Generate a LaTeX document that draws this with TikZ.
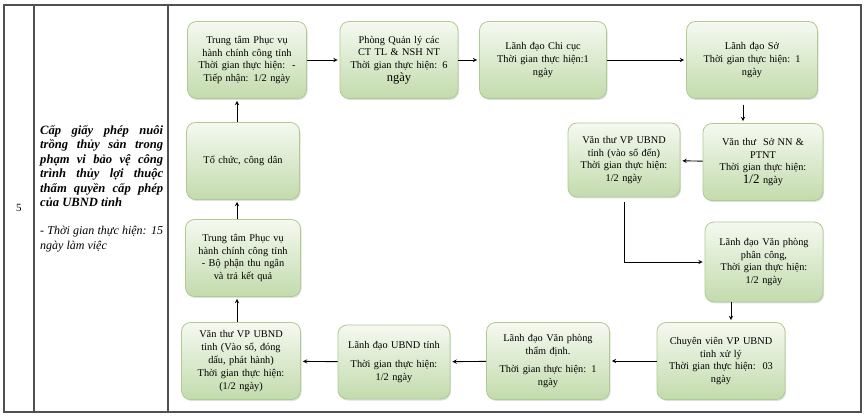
\documentclass[tikz,border=0pt]{standalone}
\usepackage{fontspec}
\setmainfont{Liberation Serif}
\usepackage{xcolor}
\usepackage{tikz}
\usetikzlibrary{shadows}
\definecolor{boxtop}{HTML}{F5F9F0}
\definecolor{boxbot}{HTML}{C2DBAC}
\definecolor{boxline}{HTML}{AECB93}
\definecolor{rule}{HTML}{505050}
\tikzset{box/.style={rectangle,rounded corners=9pt,draw=boxline,line width=0.8pt,top color=boxtop,bottom color=boxbot,
    drop shadow={opacity=0.25,shadow xshift=1pt,shadow yshift=-1.5pt},
    text width=#1,inner xsep=4pt,minimum height=77pt,align=center,font=\fontsize{10.3}{12.8}\selectfont}}
\tikzset{flow/.style={->,line width=0.9pt,shorten >=2pt}}

\begin{document}
\begin{tikzpicture}[>=stealth,x=1pt,y=-1pt]
        \useasboundingbox (0,0) rectangle (864,419);
        % table
        \draw[rule,line width=1.2pt] (4,5) rectangle (861,412);
        \draw[rule,line width=1.2pt] (34,5) -- (34,412);
        \draw[rule,line width=1.2pt] (168,5) -- (168,412);
        \node[font=\fontsize{11}{13}\selectfont] (no) at (19,208) {5};
        \node[anchor=north west,text width=123pt,align=justify,inner sep=0pt,
            font=\fontsize{12.6}{14.5}\selectfont\bfseries\itshape] (task) at (40,125)
            {Cấp giấy phép nuôi\linebreak trồng thủy sản trong\linebreak phạm vi bảo vệ công\linebreak trình thủy lợi thuộc\linebreak thẩm quyền cấp phép\linebreak của UBND tỉnh};
        \node[anchor=north west,text width=123pt,align=justify,inner sep=0pt,
            font=\fontsize{12}{15}\selectfont\itshape] (time) at (40,226)
            {- Thời gian thực hiện: 15\linebreak ngày làm việc};

        % steps
        \node[box=111pt] (A) at (247,60) {Trung tâm Phục vụ\\ hành chính công tỉnh\\ Thời gian thực hiện:~~-\\ Tiếp nhận: 1/2 ngày};
        \node[box=105pt] (B) at (243,161) {Tổ chức, công dân};
        \node[box=107pt] (C) at (243,258) {Trung tâm Phục vụ\\ hành chính công tỉnh\\ - Bộ phận thu ngân\\ và trả kết quả};
        \node[box=111pt] (D) at (241,361) {Văn thư VP UBND\\ tỉnh (Vào sổ, đóng\\ dấu, phát hành)\\ * Thời gian thực hiện:\\ (1/2 ngày)};
        \node[box=110pt] (E) at (399,60) {Phòng Quản lý các\\ CT TL \& NSH NT\\ Thời gian thực hiện: 6\\ {\fontsize{12.5}{13}\selectfont ngày}};
        \node[box=119pt] (F) at (543,60) {Lãnh đạo Chi cục\\ Thời gian thực hiện:1\\ ngày};
        \node[box=123pt] (G) at (752,60) {Lãnh đạo Sở\\ Thời gian thực hiện: 1\\ ngày};
        \node[box=112pt] (H) at (763,162) {Văn thư~ Sở NN \&\\ PTNT\\ Thời gian thực hiện:\\ {\fontsize{13}{14}\selectfont 1/2} ngày};
        \node[box=104pt,minimum height=74pt] (I) at (624,160) {Văn thư VP UBND\\ tỉnh (vào sổ đến)\\ Thời gian thực hiện:\\ 1/2 ngày};
        \node[box=110pt,minimum height=80pt] (J) at (764,262) {Lãnh đạo Văn phòng\\ phân công,\\ Thời gian thực hiện:\\ 1/2 ngày};
        \node[box=120pt] (K) at (721,361) {Chuyên viên VP UBND\\ tỉnh xử lý\\ Thời gian thực hiện:~~03\\ ngày};
        \node[box=115pt] (L) at (548,361) {Lãnh đạo Văn phòng\\ thẩm định.\\[5pt] Thời gian thực hiện: 1\\ ngày};
        \node[box=104pt,minimum height=74pt] (M) at (394,362) {Lãnh đạo UBND tỉnh\\[7pt] Thời gian thực hiện:\\ 1/2 ngày};

        \coordinate (lcol) at (237,0);
        \coordinate (gh) at (743,0);
        \coordinate (jk) at (731,0);

        \draw [flow] (B.north -| lcol) to (A.south -| lcol);
        \draw [flow] (C.north -| lcol) to (B.south -| lcol);
        \draw [flow] (D.north -| lcol) to (C.south -| lcol);
        \draw [flow] (A) to (E);
        \draw [flow] (E) to (F);
        \draw [flow] (F) to (G);
        \draw [flow,shorten <=6pt] (G.south -| gh) to (H.north -| gh);
        \draw [flow] (H) to (I);
        \draw [flow,shorten <=5pt] (I.south) |- (J.west);
        \draw [flow] (J.south -| jk) to (K.north -| jk);
        \draw [flow] (K) to (L);
        \draw [flow] (L) to (M);
        \draw [flow] (M) to (D);
    \end{tikzpicture}
\end{document}
